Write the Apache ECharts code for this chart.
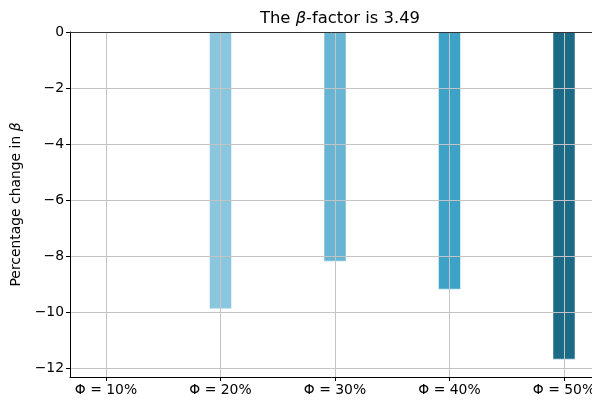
<!DOCTYPE html>
<html>
<head>
<meta charset="utf-8">
<script src="https://cdn.jsdelivr.net/npm/echarts@6/dist/echarts.min.js"></script>
<style>
  html, body { margin: 0; padding: 0; background: #fff; }
  #chart { width: 592px; height: 401px; }
</style>
</head>
<body>
<div id="chart"></div>
<script>
// Porosity cases and the percentage change in beta for each
const categories = ['Φ = 10%', 'Φ = 20%', 'Φ = 30%', 'Φ = 40%', 'Φ = 50%'];
const changes = [0, -9.9, -8.2, -9.2, -11.7];
const barColors = ['#add8e6', '#8ac6dd', '#67b5d2', '#3ea2c6', '#1b6a86'];
const yTicks = [-12, -10, -8, -6, -4, -2, 0];
const xTicks = [0, 1, 2, 3, 4];

const font = 'DejaVu Sans';
const tickSize = 13.9;
const chart = echarts.init(document.getElementById('chart'), null, { renderer: 'canvas' });

chart.setOption({
  animation: false,
  backgroundColor: '#fff',
  title: {
    text: '{n|The }{b|β}{n|-factor is 3.49}',
    left: 335,
    textAlign: 'center',
    top: 6,
    textStyle: {
      fontWeight: 'normal',
      rich: {
        n: { fontFamily: font, fontSize: 16.4, fontWeight: 'normal', color: '#000' },
        b: { fontFamily: font, fontSize: 16.4, fontWeight: 'normal', fontStyle: 'italic', color: '#000' }
      }
    }
  },
  grid: { left: 70, top: 32, width: 530, height: 345, show: false, outerBoundsMode: 'none', containLabel: false },
  xAxis: [{
    type: 'value',
    min: -0.3144,
    max: 4.3144,
    z: 5,
    axisLine: { show: true, onZero: false, lineStyle: { color: '#000', width: 1 } },
    axisTick: { show: true, customValues: xTicks, length: 4, lineStyle: { color: '#000' } },
    axisLabel: {
      customValues: xTicks,
      formatter: v => categories[Math.round(v)],
      fontFamily: font, fontSize: tickSize, color: '#000', margin: 6
    },
    splitLine: { show: true, lineStyle: { color: '#c4c4c4', width: 1 } }
  }, {
    type: 'value',
    position: 'top',
    min: -0.3144,
    max: 4.3144,
    z: 5,
    axisLine: { show: true, onZero: false, lineStyle: { color: '#333', width: 1 } },
    axisTick: { show: false },
    axisLabel: { show: false },
    splitLine: { show: false }
  }],
  yAxis: {
    type: 'value',
    min: -12.32,
    max: 0,
    z: 5,
    name: 'Percentage change in {b|β}',
    nameLocation: 'middle',
    nameGap: 40,
    nameTextStyle: {
      fontFamily: font, fontSize: tickSize, color: '#000',
      rich: { b: { fontFamily: font, fontSize: tickSize, fontStyle: 'italic', color: '#000' } }
    },
    axisLine: { show: true, onZero: false, lineStyle: { color: '#000', width: 1 } },
    axisTick: { show: true, customValues: yTicks, length: 4, lineStyle: { color: '#000' } },
    axisLabel: {
      customValues: yTicks,
      formatter: v => (v < 0 ? '\u2212' + Math.abs(v) : String(v)),
      fontFamily: font, fontSize: tickSize, color: '#000', margin: 6
    },
    splitLine: { show: true, lineStyle: { color: '#c4c4c4', width: 1 } }
  },
  series: [{
    type: 'bar',
    xAxisIndex: 0,
    barWidth: 23,
    data: changes.map((v, i) => ({
      value: [i, v],
      itemStyle: { color: barColors[i], borderColor: 'rgba(255,255,255,0.5)', borderWidth: 1 }
    }))
  }]
});
</script>
</body>
</html>
